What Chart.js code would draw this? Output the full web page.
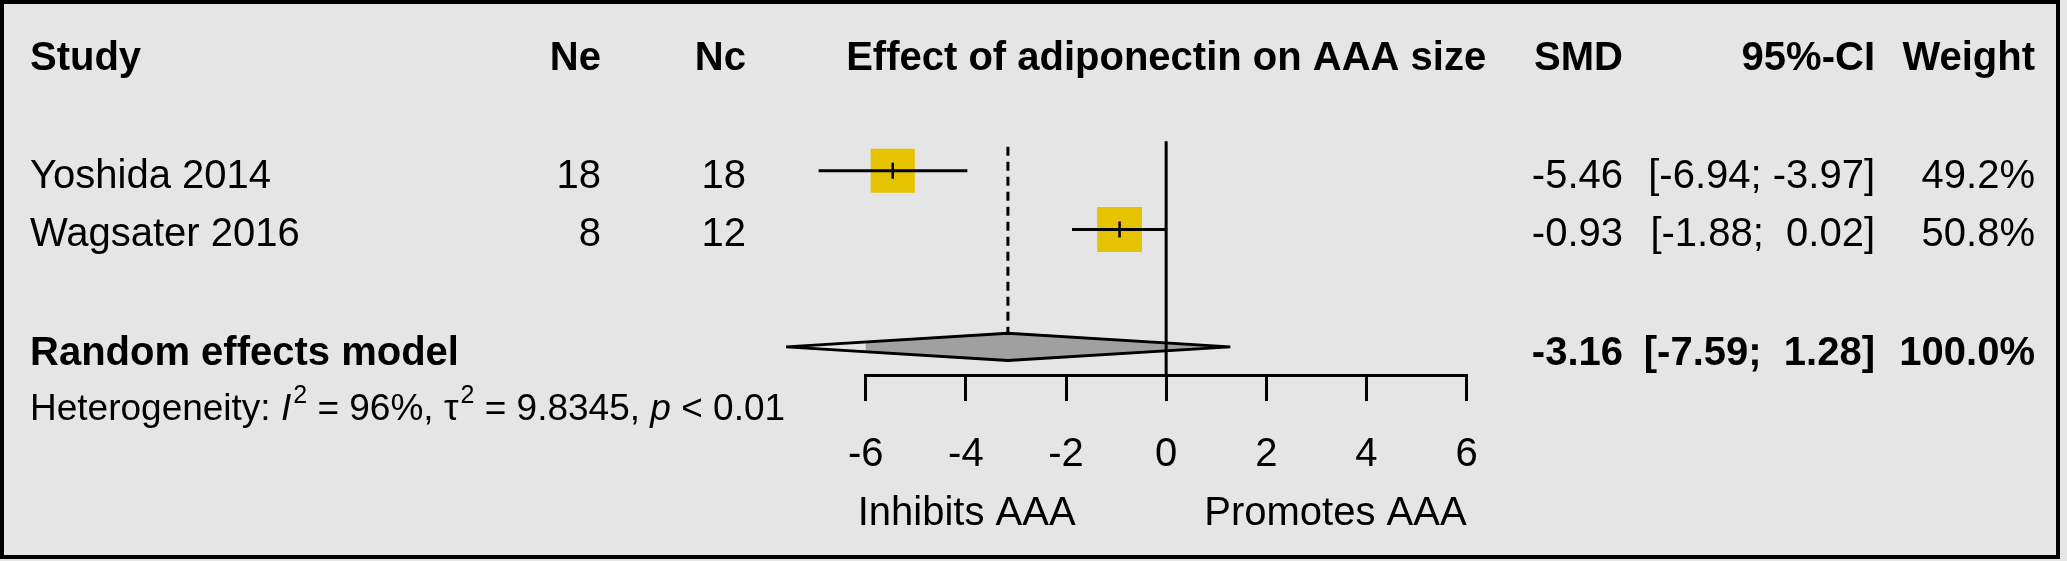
<!DOCTYPE html>
<html>
<head>
<meta charset="utf-8">
<script src="https://cdn.jsdelivr.net/npm/chart.js@4.4.1/dist/chart.umd.min.js"></script>
<style>
  html, body { margin: 0; padding: 0; background: #e5e5e5; }
  canvas { display: block; }
</style>
</head>
<body>
<canvas id="forest" width="2067" height="561"></canvas>
<script>
// datos del forest plot
const studies = ['Yoshida 2014', 'Wagsater 2016'];
const ne = [18, 8];
const nc = [18, 12];
const smd = [-5.46, -0.93];
const ciLow = [-6.94, -1.88];
const ciHigh = [-3.97, 0.02];
const weights = [49.2, 50.8];

const pooledLabel = 'Random effects model';
const pooledSmd = -3.16;
const pooledLow = -7.59;
const pooledHigh = 1.28;
const pooledWeight = 100.0;

const hetI2 = '96%';
const hetTau2 = '9.8345';
const hetP = '< 0.01';

const headers = ['Study', 'Ne', 'Nc', 'Effect of adiponectin on AAA size', 'SMD', '95%-CI', 'Weight'];
const xTicks = [-6, -4, -2, 0, 2, 4, 6];
const axisLabels = ['Inhibits AAA', 'Promotes AAA'];

// filas (eje y invertido)
const headerRow = -2;
const studyRows = [0, 1];
const pooledRow = 3;
const hetRow = 3.93;
const yMin = -2.368;
const yMax = 3.479;
const diamondHalf = 0.23;

const FONT = '"Liberation Sans", Arial, sans-serif';
const negro = '#000000';
const amarillo = '#e6c300';
const gris = '#a0a0a0';

function fmt2(v) {
    let s = v.toFixed(2);
    while (s.length < 5) {
        s = ' ' + s;
    }
    return s;
}

function textoCI(lo, hi) {
    return '[' + fmt2(lo) + '; ' + fmt2(hi) + ']';
}

let datasets = [];

// lineas de referencia
datasets.push({
    data: [{ x: 0, y: -0.504 }, { x: 0, y: yMax }],
    showLine: true, borderColor: negro, borderWidth: 3, pointRadius: 0, clip: false
});
datasets.push({
    data: [{ x: pooledSmd, y: -0.407 }, { x: pooledSmd, y: pooledRow - diamondHalf }],
    showLine: true, borderColor: negro, borderWidth: 3, borderDash: [9, 6], pointRadius: 0, clip: false
});

// intervalos de confianza y marca del estimador
for (let i = 0; i < studies.length; i++) {
    datasets.push({
        data: [{ x: ciLow[i], y: studyRows[i] }, { x: ciHigh[i], y: studyRows[i] }],
        showLine: true, borderColor: negro, borderWidth: 3, pointRadius: 0, clip: false
    });
}
datasets.push({
    data: studies.map(function (s, i) { return { x: smd[i], y: studyRows[i] }; }),
    pointStyle: 'line', rotation: 90, pointRadius: 8, borderColor: negro, borderWidth: 2.5, clip: false
});

// cuadrados segun el peso
datasets.push({
    data: studies.map(function (s, i) { return { x: smd[i], y: studyRows[i] }; }),
    pointStyle: 'rect',
    pointRadius: weights.map(function (w) { return 4.45 * Math.sqrt(w); }),
    backgroundColor: amarillo, borderWidth: 0, clip: false
});

// diamante del modelo
datasets.push({
    data: [
        { x: pooledLow, y: pooledRow },
        { x: pooledSmd, y: pooledRow - diamondHalf },
        { x: pooledHigh, y: pooledRow },
        { x: pooledSmd, y: pooledRow + diamondHalf },
        { x: pooledLow, y: pooledRow }
    ],
    showLine: true, fill: 'shape', tension: 0,
    borderColor: negro, borderWidth: 3, backgroundColor: gris, pointRadius: 0, clip: false
});

function escribir(ctx, texto, x, y, align, bold) {
    ctx.font = (bold ? 'bold ' : '') + '40px ' + FONT;
    ctx.textAlign = align;
    ctx.fillText(texto, x, y);
}

const fondoPlugin = {
    id: 'fondo',
    beforeDraw: function (chart) {
        let ctx = chart.ctx;
        ctx.save();
        ctx.fillStyle = '#e5e5e5';
        ctx.fillRect(0, 0, chart.width, chart.height);
        ctx.strokeStyle = negro;
        ctx.lineWidth = 4;
        ctx.strokeRect(2, 2, 2056, 555);
        ctx.restore();
    }
};

const textoPlugin = {
    id: 'textos',
    afterDraw: function (chart) {
        let ctx = chart.ctx;
        let xs = chart.scales.x;
        let ys = chart.scales.y;
        let colStudy = 30, colNe = 601, colNc = 746, colSmd = 1623, colCi = 1875, colW = 2035;

        ctx.save();
        ctx.fillStyle = negro;
        ctx.textBaseline = 'alphabetic';

        let yh = ys.getPixelForValue(headerRow) + 17;
        escribir(ctx, headers[0], colStudy, yh, 'left', true);
        escribir(ctx, headers[1], colNe, yh, 'right', true);
        escribir(ctx, headers[2], colNc, yh, 'right', true);
        escribir(ctx, headers[3], xs.getPixelForValue(0), yh, 'center', true);
        escribir(ctx, headers[4], colSmd, yh, 'right', true);
        escribir(ctx, headers[5], colCi, yh, 'right', true);
        escribir(ctx, headers[6], colW, yh, 'right', true);

        for (let i = 0; i < studies.length; i++) {
            let yr = ys.getPixelForValue(studyRows[i]) + 17;
            escribir(ctx, studies[i], colStudy, yr, 'left', false);
            escribir(ctx, String(ne[i]), colNe, yr, 'right', false);
            escribir(ctx, String(nc[i]), colNc, yr, 'right', false);
            escribir(ctx, smd[i].toFixed(2), colSmd, yr, 'right', false);
            escribir(ctx, textoCI(ciLow[i], ciHigh[i]), colCi, yr, 'right', false);
            escribir(ctx, weights[i].toFixed(1) + '%', colW, yr, 'right', false);
        }

        let yp = ys.getPixelForValue(pooledRow) + 18;
        escribir(ctx, pooledLabel, colStudy, yp, 'left', true);
        escribir(ctx, pooledSmd.toFixed(2), colSmd, yp, 'right', true);
        escribir(ctx, textoCI(pooledLow, pooledHigh), colCi, yp, 'right', true);
        escribir(ctx, pooledWeight.toFixed(1) + '%', colW, yp, 'right', true);

        // heterogeneidad con cursivas y superindices
        let partes = [
            { t: 'Heterogeneity: ' },
            { t: 'I', it: true },
            { t: '2', sup: true },
            { t: ' = ' + hetI2 + ', \u03c4' },
            { t: '2', sup: true },
            { t: ' = ' + hetTau2 + ', ' },
            { t: 'p', it: true },
            { t: ' ' + hetP }
        ];
        let yHet = ys.getPixelForValue(hetRow) + 19;
        let xHet = colStudy;
        ctx.textAlign = 'left';
        for (let k = 0; k < partes.length; k++) {
            let p = partes[k];
            if (p.sup) {
                ctx.font = '25px ' + FONT;
                ctx.fillText(p.t, xHet + 2, yHet - 17);
                xHet = xHet + ctx.measureText(p.t).width + 2;
            } else {
                ctx.font = (p.it ? 'italic ' : '') + '37px ' + FONT;
                ctx.fillText(p.t, xHet, yHet);
                xHet = xHet + ctx.measureText(p.t).width;
            }
        }

        // etiquetas bajo el eje
        let yLab = 525;
        escribir(ctx, axisLabels[0], xs.getPixelForValue(xTicks[0]) - 8, yLab, 'left', false);
        escribir(ctx, axisLabels[1], xs.getPixelForValue(xTicks[xTicks.length - 1]), yLab, 'right', false);

        ctx.restore();
    }
};

new Chart(document.getElementById('forest'), {
    type: 'scatter',
    data: { datasets: datasets },
    options: {
        responsive: false,
        animation: false,
        devicePixelRatio: 1,
        layout: {
            padding: { left: 865.7, right: 600.4, top: 4, bottom: 52 }
        },
        plugins: {
            legend: { display: false },
            tooltip: { enabled: false }
        },
        scales: {
            x: {
                type: 'linear',
                min: xTicks[0],
                max: xTicks[xTicks.length - 1],
                afterBuildTicks: function (scale) {
                    scale.ticks = xTicks.map(function (v) { return { value: v }; });
                },
                ticks: {
                    color: negro,
                    padding: 30,
                    font: { family: FONT, size: 40 },
                    maxRotation: 0,
                    autoSkip: false
                },
                grid: {
                    drawOnChartArea: false,
                    drawTicks: true,
                    tickLength: 26,
                    color: negro,
                    lineWidth: 3
                },
                border: { display: true, color: negro, width: 3 }
            },
            y: {
                type: 'linear',
                display: false,
                reverse: true,
                min: yMin,
                max: yMax
            }
        }
    },
    plugins: [fondoPlugin, textoPlugin]
});
</script>
</body>
</html>
